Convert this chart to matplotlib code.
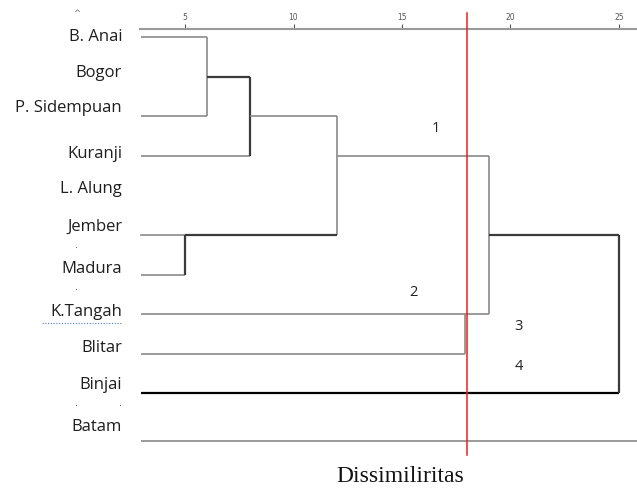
import matplotlib
matplotlib.use('Agg')
import matplotlib.pyplot as plt

# ---- data ----
leaves = ['B. Anai', 'Bogor', 'P. Sidempuan', 'Kuranji', 'L. Alung', 'Jember',
          'Madura', 'K.Tangah', 'Blitar', 'Binjai', 'Batam']
leaf_y = [0, 1, 2, 3, 4, 5, 6, 7, 8, 9, 10.2]
label_y = [0, 0.9, 1.8, 2.95, 3.85, 4.8, 5.85, 6.95, 7.85, 8.8, 9.85]

# leaf branches: (leaf, height where it joins, dark?)
leaf_links = [('B. Anai', 6, False), ('P. Sidempuan', 6, False), ('Kuranji', 8, False),
              ('Jember', 5, False), ('Madura', 5, False), ('K.Tangah', 19, False),
              ('Blitar', 17.9, False), ('Binjai', 25, True), ('Batam', 25.83, False)]
# merges: (y top, y bottom, height, dark vertical)
merges = [(0, 2, 6, False), (1, 3, 8, True), (5, 6, 5, True), (2, 5, 12, False),
          (3, 7, 19, False), (7, 8, 17.9, False), (5, 9, 25, True)]
# horizontal cluster connectors: (y, from height, to height, dark)
connectors = [(1, 6, 8, True), (2, 8, 12, False), (5, 5, 12, True),
              (3, 12, 19, False), (5, 19, 25, True)]
cut = 18
cluster_ids = ['1', '2', '3', '4']
cluster_pos = [(16.57, 2.32), (15.55, 6.46), (20.35, 7.3), (20.39, 8.33)]
ticks = [5, 10, 15, 20, 25]
x_start = 2.97
label_x = 2.1

GRAY = '#8a8a8a'
DARK = '#3a3a3a'

fig = plt.figure(figsize=(6.37, 4.88), dpi=100)
ax = fig.add_axes([140 / 637, 0, 497 / 637, 459 / 488])
ax.set_xlim(2.926, 25.83)
ax.set_ylim(11.39, -0.202)

yof = dict(zip(leaves, leaf_y))
for name, h, dark in leaf_links:
    if name == 'Jember':
        continue
    ax.plot([x_start, h], [yof[name]] * 2, color='black' if dark else GRAY,
            lw=1.6 if dark else 1.2, solid_capstyle='butt', clip_on=False)
ax.plot([x_start, 5], [yof['Jember']] * 2, color=GRAY, lw=1.2)

for y0, y1, h, dark in merges:
    ax.plot([h, h], [y0, y1], color=DARK if dark else GRAY,
            lw=1.6 if dark else 1.2, solid_capstyle='butt')
for y, h0, h1, dark in connectors:
    ax.plot([h0, h1], [y, y], color=DARK if dark else GRAY,
            lw=1.6 if dark else 1.2, solid_capstyle='butt')

ax.plot([cut, cut], [-0.606, 10.556], color='#e8221c', lw=1.1, clip_on=False, zorder=5)

for t, (x, y) in zip(cluster_ids, cluster_pos):
    ax.text(x, y, t, fontsize=10.5, family='Open Sans', ha='center', va='center', color='#222222')

for name, y in zip(leaves, label_y):
    ax.text(label_x, y, name, fontsize=12, family='Open Sans', ha='right', va='center',
            color='#1e1e1e', clip_on=False)

# spell-check underline under K.Tangah
ax.plot([-1.6, label_x], [7.22, 7.22], color='#4a7ad8', lw=0.8, ls=(0, (1, 1.5)), clip_on=False)

# scale on top
for s in ['left', 'right', 'bottom']:
    ax.spines[s].set_visible(False)
ax.spines['top'].set_color('#999999')
ax.spines['top'].set_linewidth(1.5)
ax.xaxis.tick_top()
ax.set_xticks(ticks)
ax.set_xticklabels([str(t) for t in ticks])
ax.tick_params(axis='x', direction='out', length=3.5, width=0.8, color='#555555',
               labelsize=5.5, labelcolor='#555555', pad=1.5)
ax.set_yticks([])

# scan artifacts
fig.text(77 / 637, 1 - 14 / 488, '^', fontsize=6, color='#666666', ha='center', va='center')
for px, py in [(76, 245), (76, 287), (76, 403), (120, 403)]:
    fig.text(px / 637, 1 - py / 488, '.', fontsize=7, color='#444444', ha='center', va='center')

fig.text(400 / 637, 1 - 477 / 488, 'Dissimiliritas', fontsize=17, family='Liberation Serif',
         ha='center', va='center', color='#111111')

fig.savefig('out.png', dpi=100)
